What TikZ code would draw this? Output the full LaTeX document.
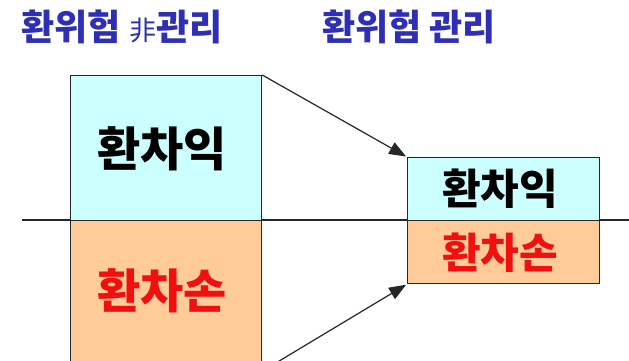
\documentclass[tikz,border=0pt]{standalone}
\usepackage{fontspec}
\newfontfamily\kr{Noto Sans CJK KR}
\usetikzlibrary{arrows.meta}
\definecolor{titleblue}{HTML}{2F2FB5}
\definecolor{gaincyan}{HTML}{CCFFFF}
\definecolor{losspeach}{HTML}{FFCC99}
\definecolor{lossred}{HTML}{F01010}
\tikzset{
  box/.style={draw=black!85, line width=1.2pt, inner sep=0pt, anchor=north west},
  gainbox/.style={box, fill=gaincyan},
  lossbox/.style={box, fill=losspeach},
  title/.style={text=titleblue, font=\kr\bfseries\fontsize{36}{40}\selectfont, inner sep=0pt},
  big/.style={font=\kr\bfseries\fontsize{47}{52}\selectfont, inner sep=0pt},
  mid/.style={font=\kr\bfseries\fontsize{42}{46}\selectfont, inner sep=0pt},
  conn/.style={line width=1.2pt, black!85, -{Triangle[length=17pt,width=13pt]}, shorten >=1pt}
}
\begin{document}
\begin{tikzpicture}[x=1pt,y=-1pt]
\useasboundingbox (0,0) rectangle (629,360);
\clip (0,0) rectangle (629,360);
\fill[white] (0,0) rectangle (629,360);
% horizontal axis
\coordinate (axL) at (22,220);
\coordinate (axR) at (629,220);
\draw[line width=1.2pt, black!85] (axL) -- (axR);
% left boxes
\node[gainbox, minimum width=191pt, minimum height=145pt] (lg) at (70,75) {};
\node[lossbox, minimum width=191pt, minimum height=150pt] (ll) at (70,220) {};
% right boxes
\node[gainbox, minimum width=192pt, minimum height=63pt] (rg) at (407,157) {};
\node[lossbox, minimum width=192pt, minimum height=63pt] (rl) at (407,220) {};
% texts
\node[big] (lgt) at (162,149) {환차익};
\node[big, text=lossred] (llt) at (162,291) {환차손};
\node[mid] (rgt) at (500,189) {환차익};
\node[mid, text=lossred] (rlt) at (500,253) {환차손};
% titles
\node[title] (t1) at (122,27) {환위험 {\mdseries\fontsize{27}{29}\selectfont 非}관리};
\node[title] (t2) at (409,27) {환위험 관리};
% arrows
\draw[conn] (lg.north east) -- (rg.north west);
\draw[conn] (ll.south east) -- (rl.south west);
\end{tikzpicture}
\end{document}
